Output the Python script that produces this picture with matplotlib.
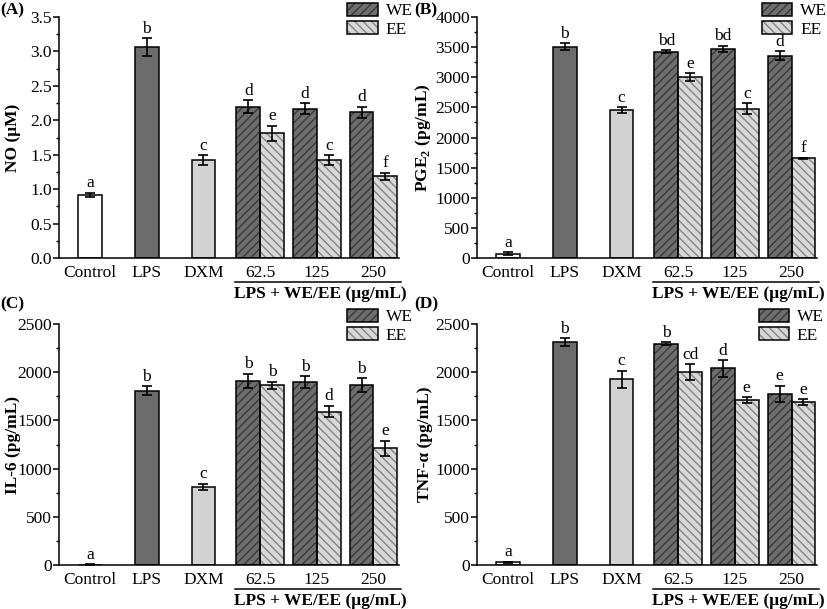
import matplotlib
matplotlib.use('Agg')
import matplotlib.pyplot as plt
from matplotlib.patches import Patch
from matplotlib.legend_handler import HandlerTuple
from matplotlib.ticker import MultipleLocator
import numpy as np

plt.rcParams['font.family'] = 'Liberation Serif'
plt.rcParams['mathtext.fontset'] = 'custom'
plt.rcParams['mathtext.rm'] = 'Liberation Serif'
plt.rcParams['mathtext.bf'] = 'Liberation Serif:bold'
plt.rcParams['hatch.linewidth'] = 1.0

# categories
labels = ['Control', 'LPS', 'DXM', '62.5', '125', '250']
group_label = 'LPS + WE/EE (μg/mL)'

# (A) NO
no_ctrl = [0.92, 3.06, 1.42]
no_ctrl_err = [0.03, 0.13, 0.07]
no_we = [2.20, 2.17, 2.12]
no_we_err = [0.09, 0.08, 0.08]
no_ee = [1.81, 1.42, 1.19]
no_ee_err = [0.11, 0.07, 0.05]
no_ctrl_let = ['a', 'b', 'c']
no_we_let = ['d', 'd', 'd']
no_ee_let = ['e', 'c', 'f']

# (B) PGE2
pge_ctrl = [70, 3510, 2455]
pge_ctrl_err = [25, 55, 50]
pge_we = [3425, 3475, 3355]
pge_we_err = [20, 50, 75]
pge_ee = [3005, 2480, 1655]
pge_ee_err = [65, 90, 10]
pge_ctrl_let = ['a', 'b', 'c']
pge_we_let = ['bd', 'bd', 'd']
pge_ee_let = ['e', 'c', 'f']

# (C) IL-6
il6_ctrl = [5, 1808, 810]
il6_ctrl_err = [3, 45, 35]
il6_we = [1910, 1898, 1865]
il6_we_err = [75, 60, 75]
il6_ee = [1865, 1592, 1210]
il6_ee_err = [35, 60, 80]
il6_ctrl_let = ['a', 'b', 'c']
il6_we_let = ['b', 'b', 'b']
il6_ee_let = ['b', 'd', 'e']

# (D) TNF-a
tnf_ctrl = [30, 2313, 1925]
tnf_ctrl_err = [5, 40, 90]
tnf_we = [2296, 2040, 1777]
tnf_we_err = [15, 85, 85]
tnf_ee = [2000, 1712, 1690]
tnf_ee_err = [80, 30, 28]
tnf_ctrl_let = ['a', 'b', 'c']
tnf_we_let = ['b', 'd', 'e']
tnf_ee_let = ['cd', 'e', 'e']

ctrl_colors = ['white', '#6c6c6c', '#d2d2d2']
we_face, we_hatch = '#6e6e6e', '#3a3a3a'
ee_face, ee_hatch = '#d8d8d8', '#858585'

w = 0.42
fs = 12.5


def panel(ax, ctrl, ctrl_err, we, we_err, ee, ee_err, lets, ylim, step, ylabel, lab_x, leg_xy):
    x = np.arange(len(labels))
    ekw = dict(ecolor='black', elinewidth=1.2, capsize=3.5, capthick=1.2)
    ax.bar(x[:3], ctrl, w, color=ctrl_colors, edgecolor='black', linewidth=1.1,
           yerr=ctrl_err, error_kw=ekw, zorder=2)
    xd = x[3:]
    # hatched fill, then black outline
    ax.bar(xd - w / 2, we, w, color=we_face, edgecolor=we_hatch, hatch='////', linewidth=0, zorder=2)
    ax.bar(xd - w / 2, we, w, fill=False, edgecolor='black', linewidth=1.1,
           yerr=we_err, error_kw=ekw, zorder=3)
    ax.bar(xd + w / 2, ee, w, color=ee_face, edgecolor=ee_hatch, hatch='\\\\\\\\', linewidth=0, zorder=2)
    ax.bar(xd + w / 2, ee, w, fill=False, edgecolor='black', linewidth=1.1,
           yerr=ee_err, error_kw=ekw, zorder=3)

    xs = list(x[:3]) + list(xd - w / 2) + list(xd + w / 2)
    tops = [v + e for v, e in zip(ctrl + we + ee, ctrl_err + we_err + ee_err)]
    for xi, t, s in zip(xs, tops, lets[0] + lets[1] + lets[2]):
        ax.annotate(s, (xi, t), xytext=(0, 1), textcoords='offset points',
                    ha='center', va='bottom', fontsize=fs)

    ax.set_xlim(-0.55, 5.45)
    ax.set_ylim(*ylim)
    ax.yaxis.set_major_locator(MultipleLocator(step))
    ax.yaxis.set_minor_locator(MultipleLocator(step / 2))
    ax.set_xticks(x)
    ax.set_xticklabels(labels, fontsize=fs)
    ax.tick_params(axis='x', length=0, pad=5)
    ax.tick_params(axis='y', which='major', direction='out', length=4, width=1.1, labelsize=fs, pad=1)
    ax.tick_params(axis='y', which='minor', direction='out', length=2.5, width=1.0)
    for s in ['top', 'right']:
        ax.spines[s].set_visible(False)
    for s in ['left', 'bottom']:
        ax.spines[s].set_linewidth(1.1)
    ax.set_ylabel(ylabel, fontsize=fs, fontweight='bold')
    ax.yaxis.set_label_coords(lab_x, 0.5)

    # group underline and label
    tr = ax.get_xaxis_transform()
    ax.plot([3 - w - 0.02, 5.48], [-0.098, -0.098], color='black', lw=1.1,
            transform=tr, clip_on=False)
    ax.text(4.06, -0.148, group_label, transform=tr, ha='center', va='center',
            fontsize=fs, fontweight='bold')

    h_we = (Patch(facecolor=we_face, edgecolor=we_hatch, hatch='////', linewidth=0),
            Patch(fill=False, edgecolor='black', linewidth=1.1))
    h_ee = (Patch(facecolor=ee_face, edgecolor=ee_hatch, hatch='\\\\\\\\', linewidth=0),
            Patch(fill=False, edgecolor='black', linewidth=1.1))
    ax.legend([h_we, h_ee], ['WE', 'EE'], handler_map={tuple: HandlerTuple(ndivide=1, pad=0)},
              loc='upper right', bbox_to_anchor=leg_xy, frameon=False, fontsize=fs,
              borderpad=0, borderaxespad=0, handlelength=1.75, handleheight=0.75,
              labelspacing=0.1, handletextpad=0.45)


fig = plt.figure(figsize=(8.27, 6.09), dpi=100)
axw, axh = 340 / 827, 241 / 609
ax_a = fig.add_axes([59 / 827, 351 / 609, axw, axh])
ax_b = fig.add_axes([477 / 827, 351 / 609, axw, axh])
ax_c = fig.add_axes([59 / 827, 44 / 609, axw, axh])
ax_d = fig.add_axes([477 / 827, 44 / 609, axw, axh])

panel(ax_a, no_ctrl, no_ctrl_err, no_we, no_we_err, no_ee, no_ee_err,
      (no_ctrl_let, no_we_let, no_ee_let), (0, 3.5), 0.5, 'NO (μM)', -0.113, (1.04, 1.058))
panel(ax_b, pge_ctrl, pge_ctrl_err, pge_we, pge_we_err, pge_ee, pge_ee_err,
      (pge_ctrl_let, pge_we_let, pge_ee_let), (0, 4000), 500, r'PGE$_\mathbf{2}$ (pg/mL)', -0.13, (1.03, 1.058))
panel(ax_c, il6_ctrl, il6_ctrl_err, il6_we, il6_we_err, il6_ee, il6_ee_err,
      (il6_ctrl_let, il6_we_let, il6_ee_let), (0, 2500), 500, 'IL-6 (pg/mL)', -0.113, (1.04, 1.062))
panel(ax_d, tnf_ctrl, tnf_ctrl_err, tnf_we, tnf_we_err, tnf_ee, tnf_ee_err,
      (tnf_ctrl_let, tnf_we_let, tnf_ee_let), (0, 2500), 500, 'TNF-α (pg/mL)', -0.13, (1.02, 1.062))

for t, x, y in [('(A)', 0, 599), ('(B)', 414, 599), ('(C)', 0, 305), ('(D)', 414, 305)]:
    fig.text(x / 827, y / 609, t, fontsize=fs, fontweight='bold', ha='left', va='center')

fig.savefig('out.png', dpi=100)
